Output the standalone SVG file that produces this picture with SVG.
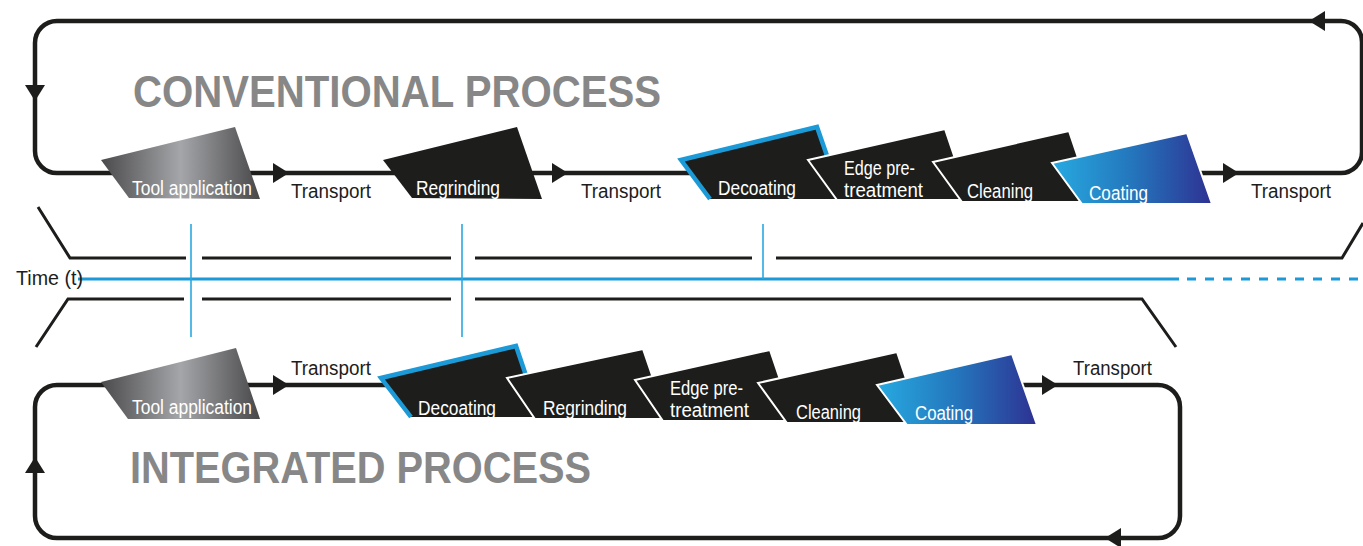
<svg xmlns="http://www.w3.org/2000/svg" width="1363" height="546" viewBox="0 0 1363 546">
<style>
.loop{fill:none;stroke:#1d1d1b;stroke-width:4.5}
.axis{fill:none;stroke:#1d1d1b;stroke-width:3}
.tick{stroke:#29a8e0;stroke-width:1.6}
.tl{stroke:#1b9ad7;stroke-width:3;fill:none}
.blk{fill:#1d1d1b}
.ov{stroke:#ffffff;stroke-width:2;stroke-linejoin:miter}
.blue{fill:none;stroke:#1b9ad7;stroke-width:4.5;stroke-linejoin:miter}
.lbl{font-family:"Liberation Sans",Arial,sans-serif;font-size:19.5px;fill:#ffffff}
.tr{font-family:"Liberation Sans",Arial,sans-serif;font-size:19.5px;fill:#1d1d1b}
.title{font-family:"Liberation Sans",Arial,sans-serif;font-weight:bold;font-size:45px;fill:#878787}
</style>
<defs>
<linearGradient id="gGrey" x1="0" y1="0" x2="1" y2="0">
<stop offset="0" stop-color="#4a4a4c"/>
<stop offset="0.5" stop-color="#a5a6a9"/>
<stop offset="1" stop-color="#48484a"/>
</linearGradient>
<linearGradient id="gBlue" x1="0" y1="0" x2="1" y2="0">
<stop offset="0" stop-color="#27aae1"/>
<stop offset="0.5" stop-color="#2476bc"/>
<stop offset="1" stop-color="#2e3192"/>
</linearGradient>
<path id="arr" d="M-15,-10 L1,0 L-15,10 Z" fill="#1d1d1b"/>
</defs>

<g id="connectors">
<path class="loop" d="M57,21 H1341 A21 21 0 0 1 1362 42 V152 A21 21 0 0 1 1341 173 H57 A22 22 0 0 1 35 151 V43 A22 22 0 0 1 57 21 Z"/>
<use href="#arr" transform="translate(1310,21) rotate(180)"/>
<use href="#arr" transform="translate(35,100) rotate(90)"/>
<use href="#arr" transform="translate(288,173)"/>
<use href="#arr" transform="translate(567,173)"/>
<use href="#arr" transform="translate(1238,173)"/>
<path class="loop" d="M57,385 H1158 A22 22 0 0 1 1180 407 V516 A22 22 0 0 1 1158 538 H57 A22 22 0 0 1 35 516 V407 A22 22 0 0 1 57 385 Z"/>
<use href="#arr" transform="translate(288,385)"/>
<use href="#arr" transform="translate(1057,385)"/>
<use href="#arr" transform="translate(1106,538) rotate(180)"/>
<use href="#arr" transform="translate(35,458) rotate(-90)"/>
</g>

<g id="timeline">
<polyline class="axis" points="38,207 70,258 186,258"/>
<line class="axis" x1="202" y1="258" x2="451" y2="258"/>
<line class="axis" x1="475" y1="258" x2="752" y2="258"/>
<polyline class="axis" points="776,258 1342,258 1363,223"/>
<polyline class="axis" points="36,347 68,299 184,299"/>
<line class="axis" x1="202" y1="299" x2="451" y2="299"/>
<polyline class="axis" points="475,299 1142,299 1176,347"/>
<line class="tl" x1="78" y1="279" x2="1179" y2="279"/>
<line class="tl" x1="1187" y1="279" x2="1363" y2="279" stroke-dasharray="9,9"/>
<line class="tick" x1="191" y1="224" x2="191" y2="337"/>
<line class="tick" x1="462" y1="224" x2="462" y2="337"/>
<line class="tick" x1="763" y1="224" x2="763" y2="279"/>
<text class="tr" x="16" y="285" textLength="67" lengthAdjust="spacingAndGlyphs" fill="#333">Time (t)</text>
</g>

<g id="conv-title"><text class="title" x="133" y="107" textLength="528" lengthAdjust="spacingAndGlyphs">CONVENTIONAL PROCESS</text></g>
<g id="int-title"><text class="title" x="130" y="483" textLength="461" lengthAdjust="spacingAndGlyphs">INTEGRATED PROCESS</text></g>

<g id="conv-tool">
<polygon points="101,160 235,127 260,199 129,198" fill="url(#gGrey)"/>
<text class="lbl" x="132" y="195" textLength="120" lengthAdjust="spacingAndGlyphs">Tool application</text>
</g>
<g id="conv-transport1"><text class="tr" x="291" y="198" textLength="80" lengthAdjust="spacingAndGlyphs">Transport</text></g>
<g id="conv-regrinding">
<polygon class="blk" points="383,160 517,127 542,199 412,198"/>
<text class="lbl" x="416" y="195" textLength="84" lengthAdjust="spacingAndGlyphs">Regrinding</text>
</g>
<g id="conv-transport2"><text class="tr" x="581" y="198" textLength="80" lengthAdjust="spacingAndGlyphs">Transport</text></g>
<g id="conv-decoating">
<polygon class="blk" points="681,160 817,127 842,199 710,199"/>
<polyline class="blue" points="710,199 681,160 817,127 842,199"/>
<text class="lbl" x="718" y="195" textLength="78" lengthAdjust="spacingAndGlyphs">Decoating</text>
</g>
<g id="conv-edge">
<polygon class="blk ov" points="808,160 945,129 969,200 837,200"/>
<text class="lbl" x="844" y="175" textLength="71" lengthAdjust="spacingAndGlyphs">Edge pre-</text>
<text class="lbl" x="844" y="197" textLength="79" lengthAdjust="spacingAndGlyphs">treatment</text>
</g>
<g id="conv-cleaning">
<polygon class="blk ov" points="933,162 1069,131 1093,202 962,202"/>
<text class="lbl" x="967" y="198" textLength="66" lengthAdjust="spacingAndGlyphs">Cleaning</text>
</g>
<g id="conv-coating">
<polygon class="ov" points="1052,163 1187,133 1212,204 1082,204" fill="url(#gBlue)"/>
<text class="lbl" x="1089" y="200" textLength="59" lengthAdjust="spacingAndGlyphs" fill="#e8f6fd">Coating</text>
</g>
<g id="conv-transport3"><text class="tr" x="1251" y="198" textLength="80" lengthAdjust="spacingAndGlyphs">Transport</text></g>

<g id="int-tool">
<polygon points="101,382 236,348 260,419 128,419" fill="url(#gGrey)"/>
<text class="lbl" x="132" y="414" textLength="120" lengthAdjust="spacingAndGlyphs">Tool application</text>
</g>
<g id="int-transport1"><text class="tr" x="291" y="375" textLength="80" lengthAdjust="spacingAndGlyphs">Transport</text></g>
<g id="int-decoating">
<polygon class="blk" points="381,378 516,346 540,417 411,417"/>
<polyline class="blue" points="411,417 381,378 516,346 540,417"/>
<text class="lbl" x="418" y="415" textLength="78" lengthAdjust="spacingAndGlyphs">Decoating</text>
</g>
<g id="int-regrinding">
<polygon class="blk ov" points="507,378 643,349 667,419 535,419"/>
<text class="lbl" x="543" y="415" textLength="84" lengthAdjust="spacingAndGlyphs">Regrinding</text>
</g>
<g id="int-edge">
<polygon class="blk ov" points="635,380 770,350 794,421 663,421"/>
<text class="lbl" x="670" y="395" textLength="73" lengthAdjust="spacingAndGlyphs">Edge pre-</text>
<text class="lbl" x="670" y="417" textLength="79" lengthAdjust="spacingAndGlyphs">treatment</text>
</g>
<g id="int-cleaning">
<polygon class="blk ov" points="758,383 897,352 921,423 787,423"/>
<text class="lbl" x="796" y="419" textLength="65" lengthAdjust="spacingAndGlyphs">Cleaning</text>
</g>
<g id="int-coating">
<polygon class="ov" points="877,385 1012,354 1037,425 907,425" fill="url(#gBlue)"/>
<text class="lbl" x="915" y="420" textLength="58" lengthAdjust="spacingAndGlyphs" fill="#e8f6fd">Coating</text>
</g>
<g id="int-transport2"><text class="tr" x="1073" y="375" textLength="79" lengthAdjust="spacingAndGlyphs">Transport</text></g>
</svg>
